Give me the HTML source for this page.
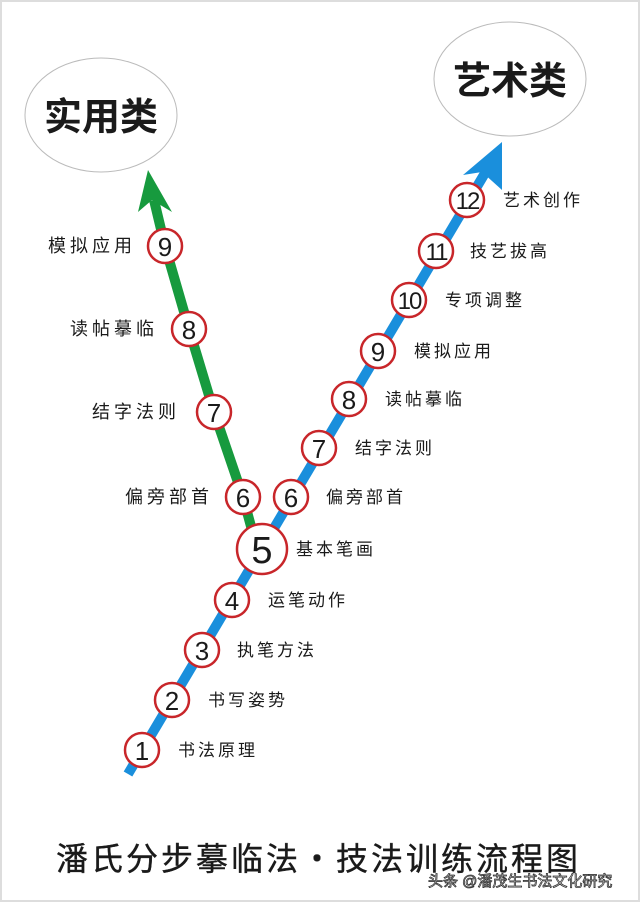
<!DOCTYPE html>
<html><head><meta charset="utf-8"><style>
body{margin:0;background:#fff}
svg{display:block}
text{font-family:"Liberation Sans","Noto Sans CJK SC",sans-serif;fill:#1a1a1a}
</style></head><body>
<svg width="640" height="902" viewBox="0 0 640 902" xmlns="http://www.w3.org/2000/svg">
<rect x="0" y="0" width="640" height="902" fill="#fff"/>
<rect x="1" y="1" width="638" height="900" fill="none" stroke="#ddd" stroke-width="2"/>
<ellipse cx="101" cy="115" rx="76" ry="57" fill="#fff" stroke="#bbb" stroke-width="1"/>
<ellipse cx="510" cy="79" rx="76" ry="57" fill="#fff" stroke="#bbb" stroke-width="1"/>
<text x="101" y="130" font-size="38" font-weight="bold" text-anchor="middle">实用类</text>
<text x="510" y="94" font-size="38" font-weight="bold" text-anchor="middle">艺术类</text>
<polyline points="252,530 243,497 214,412 189,329 165,246 154,200" fill="none" stroke="#179a3e" stroke-width="10"/>
<polygon points="148,170 138,212 152,200 172,212" fill="#179a3e"/>
<line x1="128" y1="774" x2="488" y2="168" stroke="#1a8fdc" stroke-width="10"/>
<polygon points="502,142 463,175 482,172 502,190" fill="#1a8fdc"/>
<g stroke="#c8262a" stroke-width="2.5" fill="#fff">
<circle cx="142" cy="750" r="17"/><circle cx="172" cy="700" r="17"/><circle cx="202" cy="650" r="17"/><circle cx="232" cy="600" r="17"/>
<circle cx="262" cy="549" r="25"/>
<circle cx="291" cy="497" r="17"/><circle cx="319" cy="448" r="17"/><circle cx="349" cy="399" r="17"/><circle cx="378" cy="351" r="17"/>
<circle cx="409" cy="300" r="17"/><circle cx="436" cy="251" r="17"/><circle cx="467" cy="200" r="17"/>
<circle cx="243" cy="497" r="17"/><circle cx="214" cy="412" r="17"/><circle cx="189" cy="329" r="17"/><circle cx="165" cy="246" r="17"/>
</g>
<g font-size="26" text-anchor="middle">
<text x="142" y="760">1</text><text x="172" y="710">2</text><text x="202" y="660">3</text><text x="232" y="610">4</text>
<text x="262" y="563" font-size="38">5</text>
<text x="291" y="507">6</text><text x="319" y="458">7</text><text x="349" y="409">8</text><text x="378" y="361">9</text>
<text x="409" y="309" font-size="24" letter-spacing="-2">10</text><text x="436" y="260" font-size="24" letter-spacing="-2">11</text><text x="467" y="209" font-size="24" letter-spacing="-2">12</text>
<text x="243" y="507">6</text><text x="214" y="422">7</text><text x="189" y="339">8</text><text x="165" y="256">9</text>
</g>
<g font-size="17" letter-spacing="3">
<text x="178" y="756">书法原理</text><text x="208" y="706">书写姿势</text><text x="237" y="656">执笔方法</text><text x="268" y="606">运笔动作</text>
<text x="296" y="555">基本笔画</text><text x="326" y="503">偏旁部首</text><text x="355" y="454">结字法则</text><text x="385" y="405">读帖摹临</text>
<text x="414" y="357">模拟应用</text><text x="445" y="306">专项调整</text><text x="470" y="257">技艺拔高</text><text x="503" y="206">艺术创作</text>
</g>
<g font-size="18" letter-spacing="4">
<text x="48" y="252">模拟应用</text><text x="70" y="335">读帖摹临</text><text x="92" y="418">结字法则</text><text x="125" y="503">偏旁部首</text>
</g>
<text x="56" y="870" font-size="32" letter-spacing="3" stroke="#1a1a1a" stroke-width="0.4">潘氏分步摹临法・技法训练流程图</text>
<text x="428" y="886" font-size="15" fill="#fff" stroke="#333" stroke-width="0.8" style="fill:#fff">头条 @潘茂生书法文化研究</text>
</svg>
</body></html>
